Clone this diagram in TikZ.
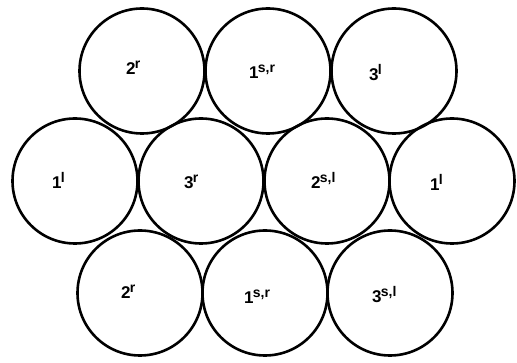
\documentclass[tikz,border=0pt]{standalone}
\usepackage{fontspec}
\setmainfont{Liberation Sans}
\newcommand\lblx[2]{\fontsize{17}{17}\selectfont\bfseries #1\kern-0.8pt\raisebox{6.5pt}{\fontsize{14}{14}\selectfont #2}}
\begin{document}
\begin{tikzpicture}[x=1pt,y=-1pt,
  disc/.style={circle,draw=black,line width=2.6pt,minimum size=125pt,inner sep=0pt},
  tag/.style={anchor=base west,inner sep=0pt}]
\useasboundingbox (0,0) rectangle (517,363);
% top row
\node[disc] (t1) at (142,71) {};
\node[disc] (t2) at (268,71) {};
\node[disc] (t3) at (394,71) {};
% middle row
\node[disc] (m1) at (75,181) {};
\node[disc] (m2) at (201,181) {};
\node[disc] (m3) at (327,181) {};
\node[disc] (m4) at (452,181) {};
% bottom row
\node[disc] (b1) at (140,293) {};
\node[disc] (b2) at (265,293) {};
\node[disc] (b3) at (390,293) {};
% labels
\node[tag] (lt1) at (126,75) {\lblx{2}{r}};
\node[tag] (lt2) at (249,79) {\lblx{1}{s,r}};
\node[tag] (lt3) at (369,81) {\lblx{3}{l}};
\node[tag] (lm1) at (52,189) {\lblx{1}{l}};
\node[tag] (lm2) at (184,189) {\lblx{3}{r}};
\node[tag] (lm3) at (311,189) {\lblx{2}{s,l}};
\node[tag] (lm4) at (430,191) {\lblx{1}{l}};
\node[tag] (lb1) at (121,299) {\lblx{2}{r}};
\node[tag] (lb2) at (244,304) {\lblx{1}{s,r}};
\node[tag] (lb3) at (372,303) {\lblx{3}{s,l}};
\end{tikzpicture}
\end{document}
